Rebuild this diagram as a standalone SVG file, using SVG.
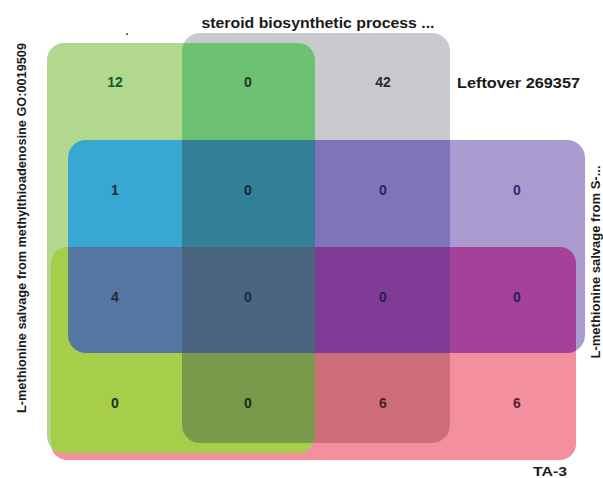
<svg xmlns="http://www.w3.org/2000/svg" width="603" height="478" viewBox="0 0 603 478">
<style>
.lbl{font-family:"Liberation Sans",Arial,Helvetica,sans-serif;font-weight:bold;fill:#1a1a1a}
.num{font-family:"Liberation Sans",Arial,Helvetica,sans-serif;font-weight:bold;font-size:14px;text-anchor:middle}
</style>
<defs>
<rect id="rA" x="47" y="43" width="268" height="410" rx="17"/>
<rect id="rB" x="182" y="33" width="268" height="410" rx="18"/>
<rect id="rC" x="68" y="140" width="517" height="213" rx="18"/>
<rect id="rD" x="51" y="247" width="525" height="213" rx="16"/>
<clipPath id="cA"><use href="#rA"/></clipPath>
<clipPath id="cB"><use href="#rB"/></clipPath>
<clipPath id="cC"><use href="#rC"/></clipPath>
</defs>
<rect width="603" height="478" fill="#ffffff"/>
<g id="setD"><use href="#rD" fill="#f48fa0"/></g>
<g id="setC"><use href="#rC" fill="#a99bd0"/></g>
<g id="setA"><use href="#rA" fill="#b2d88e"/></g>
<g id="setB"><use href="#rB" fill="#c9cacd"/></g>
<g id="overlaps">
  <g clip-path="url(#cC)"><use href="#rD" fill="#a4429a"/></g>
  <g clip-path="url(#cB)">
    <use href="#rC" fill="#7f74b9"/>
    <use href="#rD" fill="#cd6e7a"/>
    <g clip-path="url(#cC)"><use href="#rD" fill="#813a95"/></g>
  </g>
  <g clip-path="url(#cA)">
    <use href="#rB" fill="#6dc173"/>
    <use href="#rC" fill="#38a8d2"/>
    <use href="#rD" fill="#a6ce4a"/>
    <g clip-path="url(#cC)"><use href="#rD" fill="#5576a0"/></g>
    <g clip-path="url(#cB)">
      <use href="#rC" fill="#327f98"/>
      <use href="#rD" fill="#789a4a"/>
      <g clip-path="url(#cC)"><use href="#rD" fill="#4a6580"/></g>
    </g>
  </g>
</g>
<g id="counts">
  <text class="num" x="115" y="87" fill="#0f5a32">12</text>
  <text class="num" x="248" y="87" fill="#1d3a25">0</text>
  <text class="num" x="383" y="87" fill="#2a2b2e">42</text>
  <text class="num" x="115" y="195" fill="#1e2b45">1</text>
  <text class="num" x="248" y="195" fill="#1c2a3a">0</text>
  <text class="num" x="383" y="195" fill="#2a2658">0</text>
  <text class="num" x="517" y="195" fill="#2a2a7a">0</text>
  <text class="num" x="115" y="302" fill="#22283a">4</text>
  <text class="num" x="248" y="302" fill="#222a38">0</text>
  <text class="num" x="383" y="302" fill="#2a1f4a">0</text>
  <text class="num" x="517" y="302" fill="#2b1d5c">0</text>
  <text class="num" x="115" y="408" fill="#233020">0</text>
  <text class="num" x="248" y="408" fill="#1f2d1a">0</text>
  <text class="num" x="383" y="408" fill="#4a2024">6</text>
  <text class="num" x="517" y="408" fill="#5a2028">6</text>
</g>
<g id="labels">
  <text class="lbl" x="318" y="28" font-size="15" text-anchor="middle" textLength="233" lengthAdjust="spacingAndGlyphs">steroid biosynthetic process ...</text>
  <text class="lbl" x="127" y="35" font-size="11" text-anchor="middle" fill="#555">.</text>
  <text class="lbl" x="457" y="88" font-size="15.5" textLength="123" lengthAdjust="spacingAndGlyphs">Leftover 269357</text>
  <text class="lbl" x="533" y="476" font-size="13.5" textLength="34" lengthAdjust="spacingAndGlyphs">TA-3</text>
  <text class="lbl" transform="translate(26,228) rotate(-90)" font-size="12.5" text-anchor="middle" textLength="370" lengthAdjust="spacingAndGlyphs">L-methionine salvage from methylthioadenosine GO:0019509</text>
  <text class="lbl" transform="translate(600,262) rotate(-90)" font-size="12.5" text-anchor="middle" textLength="193" lengthAdjust="spacingAndGlyphs">L-methionine salvage from S-...</text>
</g>
</svg>
